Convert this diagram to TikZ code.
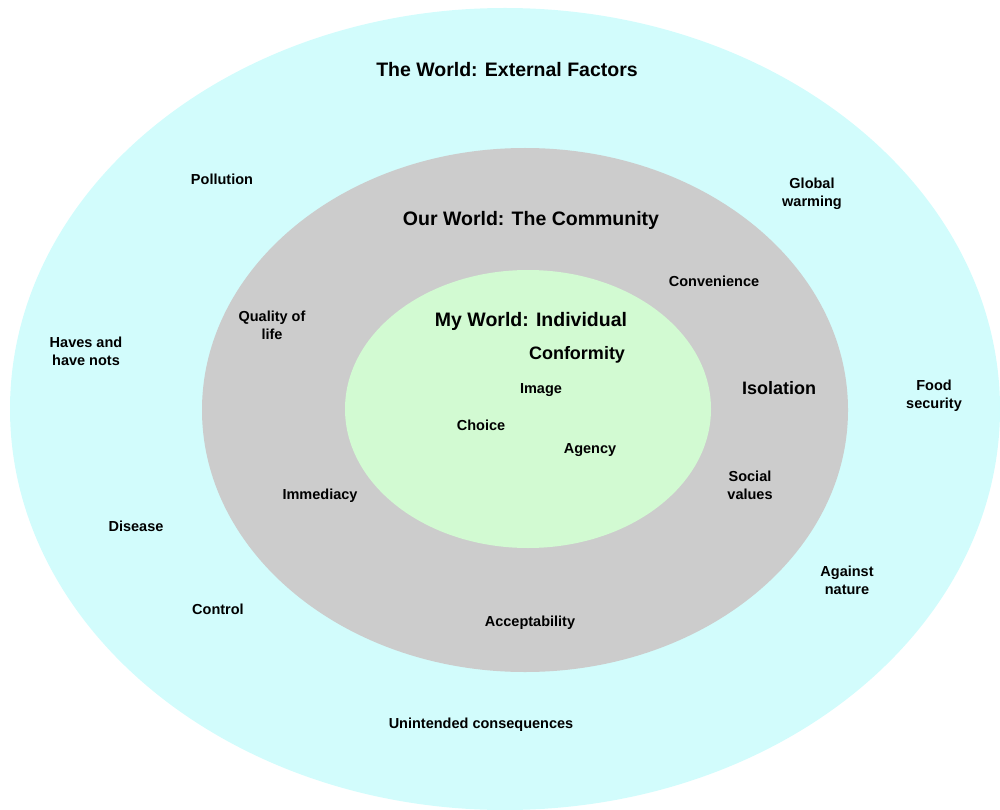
\documentclass[tikz,border=0pt]{standalone}
\usepackage{fontspec}
\setmainfont{Liberation Sans}
\definecolor{worldcyan}{HTML}{D2FCFC}
\definecolor{communitygray}{HTML}{CCCCCC}
\definecolor{individualgreen}{HTML}{D2FAD2}
\begin{document}
\begin{tikzpicture}[
      x = 1pt, y = -1pt,
      font = \bfseries,
      every node/.style = {
        yshift = -1.5pt,
      },
      title/.style = {
        align = center,
        inner sep = 0,
        font = \fontsize{19.5}{23}\selectfont\bfseries,
      },
      big/.style = {
        align = center,
        inner sep = 0,
        font = \fontsize{18}{21}\selectfont\bfseries,
      },
      factor/.style = {
        align = center,
        inner sep = 0,
        font = \fontsize{14.5}{18}\selectfont\bfseries,
      },
    ]
    \useasboundingbox (0,0) rectangle (1000,810);
    % the three worlds
    \fill[worldcyan] (505,409) ellipse [x radius = 495, y radius = 401];
    \fill[communitygray] (525,410) ellipse [x radius = 323, y radius = 262];
    \fill[individualgreen] (528,409) ellipse [x radius = 183, y radius = 139];
    % outer ring
    \node[title] (world) at (507,68) {The World: External Factors};
    \node[factor] (pollution) at (222,178) {Pollution};
    \node[factor] (warming) at (812,192) {Global\\warming};
    \node[factor] (haves) at (86,350) {Haves and\\have nots};
    \node[factor] (food) at (934,394) {Food\\security};
    \node[factor] (disease) at (136,525) {Disease};
    \node[factor] (nature) at (847,579) {Against\\nature};
    \node[factor] (control) at (218,608) {Control};
    \node[factor] (unintended) at (481,723) {Unintended consequences};
    % middle ring
    \node[title] (community) at (531,219) {Our World: The Community};
    \node[factor] (convenience) at (714,280) {Convenience};
    \node[factor] (quality) at (272,324) {Quality of\\life};
    \node[big] (isolation) at (779,387) {Isolation};
    \node[factor] (social) at (750,484) {Social\\values};
    \node[factor] (immediacy) at (320,494) {Immediacy};
    \node[factor] (accept) at (530,621) {Acceptability};
    % inner circle
    \node[title] (individual) at (531,320) {My World: Individual};
    \node[big] (conformity) at (577,353) {Conformity};
    \node[factor] (image) at (541,389) {Image};
    \node[factor] (choice) at (481,424) {Choice};
    \node[factor] (agency) at (590,449) {Agency};
  \end{tikzpicture}
\end{document}
